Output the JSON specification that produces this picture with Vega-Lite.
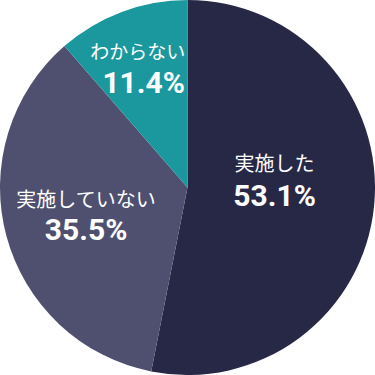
{
  "$schema": "https://vega.github.io/schema/vega-lite/v6.json",
  "autosize": {"type": "fit", "contains": "padding"},
  "width": 375,
  "height": 375,
  "padding": 0,
  "background": "white",
  "view": {"stroke": null},
  "data": {"values": [
    {"category": "実施した", "label": "53.1%", "value": 53.1, "order": 1},
    {"category": "実施していない", "label": "35.5%", "value": 35.5, "order": 2},
    {"category": "わからない", "label": "11.4%", "value": 11.4, "order": 3}
  ]},
  "transform": [
    {"stack": "value", "groupby": [], "sort": [{"field": "order"}], "as": ["v0", "v1"]},
    {"calculate": "(datum.v0 + datum.v1) / 2", "as": "mid"}
  ],
  "layer": [
    {
      "mark": {"type": "arc", "radius": 187.5, "stroke": null},
      "encoding": {
        "theta": {"field": "v0", "type": "quantitative", "scale": {"domain": [0, 100]}},
        "theta2": {"field": "v1"},
        "color": {"field": "category", "type": "nominal", "legend": null,
          "scale": {"domain": ["実施した", "実施していない", "わからない"], "range": ["#262846", "#4f506f", "#1b989e"]}}
      }
    },
    {
      "transform": [{"filter": "datum.order == 1"}],
      "layer": [
        {"mark": {"type": "text", "radius": 87.5, "dy": -31, "font": "Noto Sans CJK JP", "fontSize": 20, "color": "white", "baseline": "middle", "align": "center"},
         "encoding": {"theta": {"field": "mid", "type": "quantitative", "scale": {"domain": [0, 100]}}, "text": {"field": "category"}}},
        {"mark": {"type": "text", "radius": 87.5, "dy": 1, "font": "Roboto", "fontWeight": "bold", "fontSize": 30, "color": "white", "baseline": "middle", "align": "center"},
         "encoding": {"theta": {"field": "mid", "type": "quantitative", "scale": {"domain": [0, 100]}}, "text": {"field": "label"}}}
      ]
    },
    {
      "transform": [{"filter": "datum.order == 2"}],
      "layer": [
        {"mark": {"type": "text", "radius": 105, "dy": -14, "font": "Noto Sans CJK JP", "fontSize": 20, "color": "white", "baseline": "middle", "align": "center"},
         "encoding": {"theta": {"field": "mid", "type": "quantitative", "scale": {"domain": [0, 100]}}, "text": {"field": "category"}}},
        {"mark": {"type": "text", "radius": 105, "dy": 16, "font": "Roboto", "fontWeight": "bold", "fontSize": 30, "color": "white", "baseline": "middle", "align": "center"},
         "encoding": {"theta": {"field": "mid", "type": "quantitative", "scale": {"domain": [0, 100]}}, "text": {"field": "label"}}}
      ]
    },
    {
      "transform": [{"filter": "datum.order == 3"}],
      "layer": [
        {"mark": {"type": "text", "radius": 128, "dx": -5, "dy": -15, "font": "Noto Sans CJK JP", "fontSize": 19, "color": "white", "baseline": "middle", "align": "center"},
         "encoding": {"theta": {"field": "mid", "type": "quantitative", "scale": {"domain": [0, 100]}}, "text": {"field": "category"}}},
        {"mark": {"type": "text", "radius": 128, "dx": 1, "dy": 16, "font": "Roboto", "fontWeight": "bold", "fontSize": 30, "color": "white", "baseline": "middle", "align": "center"},
         "encoding": {"theta": {"field": "mid", "type": "quantitative", "scale": {"domain": [0, 100]}}, "text": {"field": "label"}}}
      ]
    }
  ]
}
